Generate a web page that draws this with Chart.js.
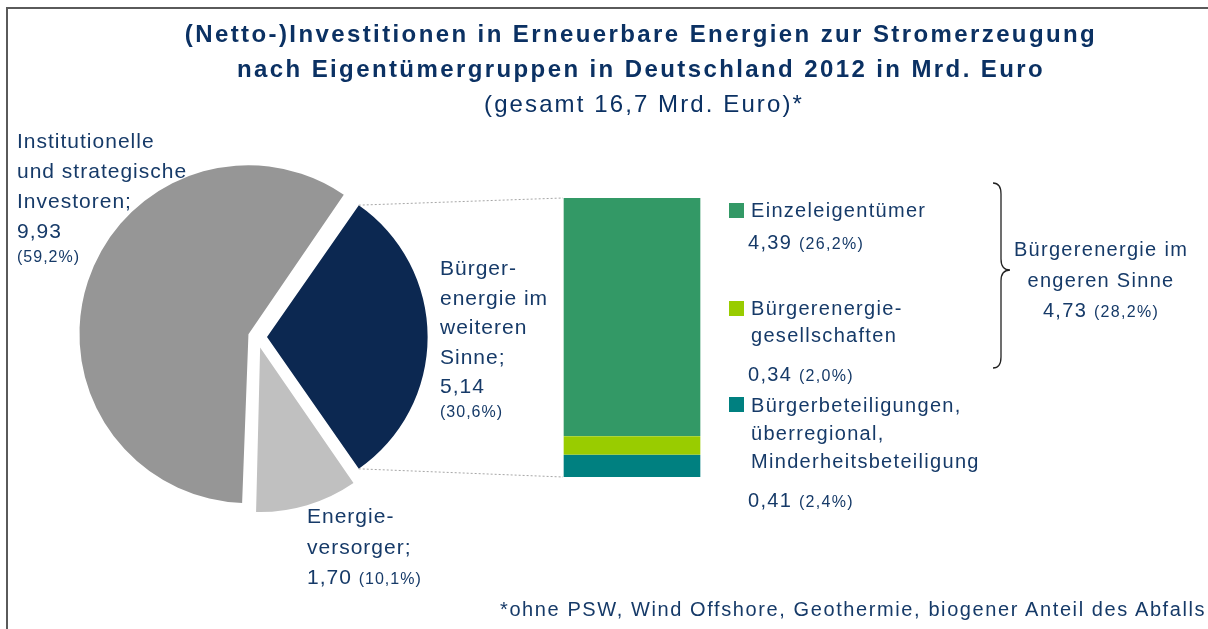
<!DOCTYPE html>
<html>
<head>
<meta charset="utf-8">
<script src="https://cdn.jsdelivr.net/npm/chart.js@4/dist/chart.umd.min.js"></script>
<style>
  body { margin: 0; width: 1208px; height: 629px; overflow: hidden; background: #fff; position: relative;
         font-family: "Liberation Sans", Arial, sans-serif; color: #163a68; }
  canvas { position: absolute; left: 0; top: 0; }
  .frame { position: absolute; left: 6px; top: 7px; width: 1300px; height: 700px;
           border-left: 2px solid #5a5a5a; border-top: 2px solid #5a5a5a; }
  .t { position: absolute; white-space: nowrap; line-height: 1; }
  .sw { position: absolute; width: 15px; height: 15px; }
  svg { position: absolute; left: 0; top: 0; }
</style>
</head>
<body>
<div class="frame"></div>
<canvas id="pie" width="1208" height="629"></canvas>
<canvas id="bar" width="1208" height="629"></canvas>
<svg width="1208" height="629">
  <path d="M 993 183 Q 1001 183 1001 194 L 1001 259 Q 1001 270 1010 270 Q 1001 270 1001 281 L 1001 357 Q 1001 368 993 368"
        fill="none" stroke="#222" stroke-width="1.3"/>
</svg>
<div id="labels"></div>

<script>
// pie: Bürgerenergie im weiteren Sinne, Energieversorger, Institutionelle Investoren (Mrd. Euro)
const pieLabels = [['Bürger-', 'energie im', 'weiteren', 'Sinne;'], ['Energie-', 'versorger;'], ['Institutionelle', 'und strategische', 'Investoren;']];
const pieValues = [5.14, 1.70, 9.93];
const pieShares = [30.6, 10.1, 59.2];
const pieColors = ['#0c2851', '#c0c0c0', '#969696'];

// bar (bottom to top): breakdown of the Bürgerenergie slice
const barLabels = [['Bürgerbeteiligungen,', 'überregional,', 'Minderheitsbeteiligung'], ['Bürgerenergie-', 'gesellschaften'], ['Einzeleigentümer']];
const barValues = [0.41, 0.34, 4.39];
const barShares = [2.4, 2.0, 26.2];
const barColors = ['#008080', '#99cc00', '#339966'];

const titleLines = ['(Netto-)Investitionen in Erneuerbare Energien zur Stromerzeugung',
                    'nach Eigentümergruppen in Deutschland 2012 in Mrd. Euro',
                    '(gesamt 16,7 Mrd. Euro)*'];
const footnote = '*ohne PSW, Wind Offshore, Geothermie, biogener Anteil des Abfalls';
const bracketTitle = ['Bürgerenergie im', 'engeren Sinne'];

const fmt = v => v.toFixed(2).replace('.', ',');
const pct = p => '(' + p.toFixed(1).replace('.', ',') + '%)';

const pieTotal = pieValues.reduce((a, b) => a + b, 0);
const barTotal = barValues.reduce((a, b) => a + b, 0);

const pieChart = new Chart(document.getElementById('pie'), {
  type: 'pie',
  data: {
    labels: pieLabels.map(l => l.join(' ')),
    datasets: [{ data: pieValues, backgroundColor: pieColors, borderWidth: 0, offset: [40, 44, 36] }]
  },
  options: {
    responsive: false,
    animation: false,
    rotation: 90 - 180 * pieValues[0] / pieTotal,
    radius: 160,
    layout: { padding: { left: 76, right: 770, top: 156, bottom: 111 } },
    plugins: { legend: { display: false }, tooltip: { enabled: false } }
  }
});

// dotted lines from the exploded slice to the stacked bar
const connectors = {
  id: 'connectors',
  afterDraw(chart) {
    const arc = pieChart.getDatasetMeta(0).data[0];
    const off = arc.options.offset / 4;
    const mid = (arc.startAngle + arc.endAngle) / 2;
    const circ = arc.endAngle - arc.startAngle;
    const r = arc.outerRadius + off * (1 - Math.sin(Math.min(Math.PI, circ)));
    const cx = arc.x + Math.cos(mid) * off;
    const cy = arc.y + Math.sin(mid) * off;
    const topBar = chart.getDatasetMeta(barValues.length - 1).data[0];
    const botBar = chart.getDatasetMeta(0).data[0];
    const ctx = chart.ctx;
    ctx.save();
    ctx.strokeStyle = '#a6a6a6';
    ctx.lineWidth = 1;
    ctx.setLineDash([2, 2]);
    ctx.beginPath();
    ctx.moveTo(cx + Math.cos(arc.startAngle) * r, cy + Math.sin(arc.startAngle) * r);
    ctx.lineTo(topBar.x - topBar.width / 2, topBar.y);
    ctx.moveTo(cx + Math.cos(arc.endAngle) * r, cy + Math.sin(arc.endAngle) * r);
    ctx.lineTo(botBar.x - botBar.width / 2, botBar.base);
    ctx.stroke();
    ctx.restore();
  }
};

const barChart = new Chart(document.getElementById('bar'), {
  type: 'bar',
  data: {
    labels: ['2012'],
    datasets: barValues.map((v, i) => ({
      label: barLabels[i].join(' '),
      data: [v],
      backgroundColor: barColors[i],
      borderColor: 'rgba(255,255,255,0.35)',
      borderWidth: { left: 1, right: 1, top: 0, bottom: 0 },
      borderSkipped: false,
      barPercentage: 1,
      categoryPercentage: 1
    }))
  },
  options: {
    responsive: false,
    animation: false,
    layout: { padding: { left: 563, right: 507, top: 198, bottom: 152 } },
    scales: {
      x: { stacked: true, display: false },
      y: { stacked: true, display: false, min: 0, max: barTotal }
    },
    plugins: { legend: { display: false }, tooltip: { enabled: false } }
  },
  plugins: [connectors]
});

// text
const holder = document.getElementById('labels');

function addText(html, x, baseline, size, opts = {}) {
  const d = document.createElement('div');
  d.className = 't';
  d.innerHTML = html;
  d.style.fontSize = size + 'px';
  d.style.top = (baseline - 0.8465 * size) + 'px';
  d.style.letterSpacing = (opts.ls ?? 1) + 'px';
  if (opts.bold) d.style.fontWeight = 'bold';
  if (opts.color) d.style.color = opts.color;
  d.style.left = x + 'px';
  if (opts.center) d.style.transform = 'translateX(-50%)';
  holder.appendChild(d);
}

function addLines(lines, x, firstBaseline, step, size, opts) {
  lines.forEach((l, i) => addText(l, x, firstBaseline + i * step, size, opts));
}

const small = p => '<span style="font-size:16px">' + pct(p) + '</span>';

addText(titleLines[0], 641, 42, 24, { bold: true, ls: 2.4, center: true, color: '#0b3163' });
addText(titleLines[1], 641, 77, 24, { bold: true, ls: 2.4, center: true, color: '#0b3163' });
addText(titleLines[2], 644, 112, 24, { ls: 2.1, center: true, color: '#0b3163' });

// pie labels
addLines([...pieLabels[2], fmt(pieValues[2])], 17, 148, 30, 21);
addText(small(pieShares[2]), 17, 263, 16);
addLines([...pieLabels[0], fmt(pieValues[0])], 440, 275, 29.5, 21);
addText(small(pieShares[0]), 440, 418, 16);
addLines([...pieLabels[1], fmt(pieValues[1]) + ' ' + small(pieShares[1])], 307, 523, 30.5, 21);

// bar legend
const legendPos = [
  { sq: 397, base: 412, step: 28, val: 507 },
  { sq: 301, base: 315, step: 27, val: 381 },
  { sq: 203, base: 217, step: 27, val: 249 }
];
barLabels.forEach((lines, i) => {
  const p = legendPos[i];
  const sw = document.createElement('div');
  sw.className = 'sw';
  sw.style.left = '729px';
  sw.style.top = p.sq + 'px';
  sw.style.background = barColors[i];
  holder.appendChild(sw);
  addLines(lines, 751, p.base, p.step, 20, { ls: 1.3 });
  addText(fmt(barValues[i]) + ' ' + small(barShares[i]), 748, p.val, 20, { ls: 1.3 });
});

addText(bracketTitle[0], 1101, 256, 20, { ls: 1.3, center: true });
addText(bracketTitle[1], 1101, 287, 20, { ls: 1.3, center: true });
addText(fmt(barValues[2] + barValues[1]) + ' ' + small(barShares[2] + barShares[1]), 1101, 317, 20, { ls: 1.3, center: true });

addText(footnote, 500, 616, 20, { ls: 1.6 });
</script>
</body>
</html>
